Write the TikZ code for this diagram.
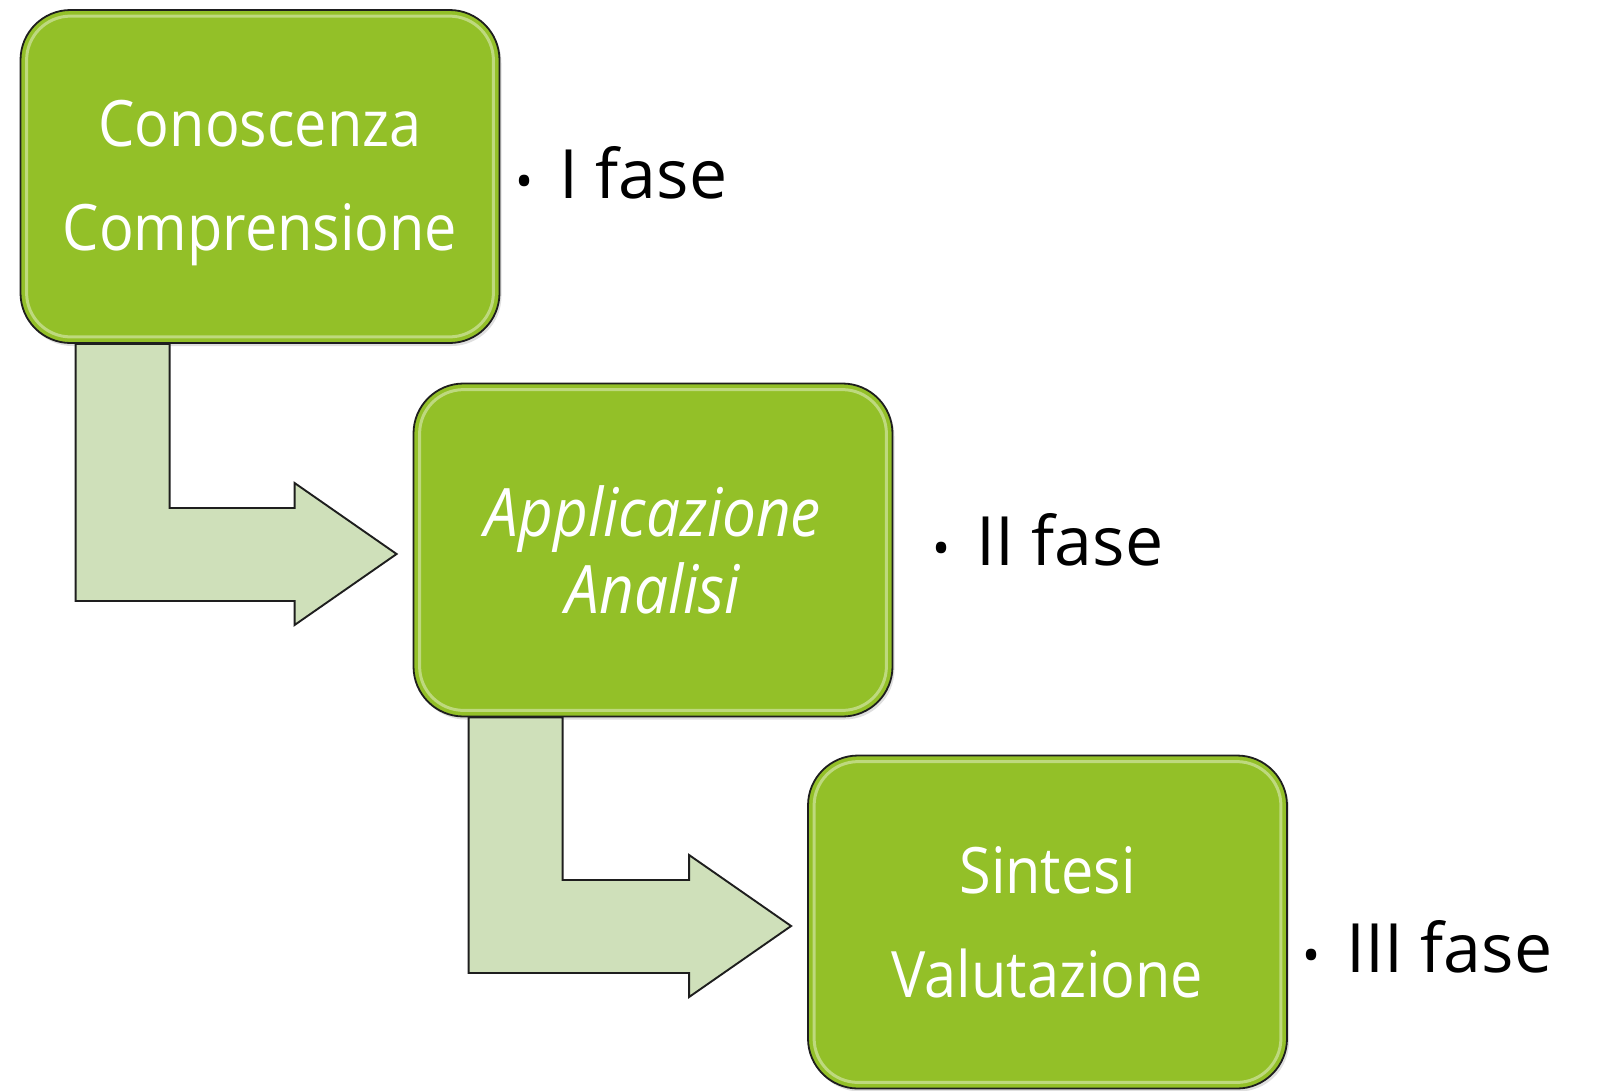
\documentclass[tikz,border=0pt]{standalone}
\usepackage{fontspec}
\setmainfont{Open Sans}[FakeStretch=0.9]
\newfontfamily\labelfont{Open Sans}
\usetikzlibrary{calc,shadows}
\definecolor{boxgreen}{RGB}{147,192,40}
\definecolor{arrowgreen}{RGB}{207,224,186}
\definecolor{edgegray}{RGB}{30,30,30}
\tikzset{
  phasebox/.style={draw=edgegray, line width=1.8pt, fill=boxgreen, rounded corners=50pt,
    minimum width=479pt, minimum height=333pt, inner sep=0pt, text=white, align=center,
    font=\fontsize{64}{104}\selectfont,
    drop shadow={opacity=0.25, shadow xshift=2pt, shadow yshift=-3pt}},
  bevel/.style={draw=white, opacity=0.4, line width=3pt, rounded corners=44pt},
  bentarrow/.style={draw=edgegray, line width=1.9pt, fill=arrowgreen, line join=miter},
  phaselabel/.style={anchor=base west, inner sep=0pt, text=black, font=\labelfont\fontsize{68}{72}\selectfont}
}
\newcommand{\phasebullet}{{\fontsize{48}{48}\selectfont •}\hspace{26pt}}
\newcommand{\lowline}[1]{\raisebox{-22pt}[0pt][0pt]{#1}}
\begin{document}
\begin{tikzpicture}[x=1pt,y=-1pt]
\useasboundingbox (0,0) rectangle (1613,1090);

% boxes
\node[phasebox] (b1) at (260,176.5) {\lowline{Conoscenza}\\\lowline{Comprensione}};
\node[phasebox, font=\fontsize{67}{77}\selectfont\itshape] (b2) at (653,550) {Applicazione\\Analisi};
\node[phasebox] (b3) at (1047.5,922) {Sintesi\\Valutazione};

% bevel highlights
\foreach \b in {b1,b2,b3}{
  \draw[bevel] ($(\b.south west)+(7,-7)$) rectangle ($(\b.north east)+(-7,7)$);
}

% bent arrows
\coordinate (t1) at ($(b2.west)+(-16,4)$);
\draw[bentarrow] ($(b1.south west)+(56,0)$) coordinate (a1) -- ++(94,0)
  |- ($(t1)+(-102,-46)$) -- ++(0,-25) -- (t1) -- ($(t1)+(-102,71)$) -- ++(0,-24) -| (a1) -- cycle;

\coordinate (t2) at ($(b3.west)+(-16,4)$);
\draw[bentarrow] ($(b2.south west)+(56,0)$) coordinate (a2) -- ++(94,0)
  |- ($(t2)+(-102,-46)$) -- ++(0,-25) -- (t2) -- ($(t2)+(-102,71)$) -- ++(0,-24) -| (a2) -- cycle;

% phase labels
\node[phaselabel] (l1) at (515,198) {\phasebullet I fase};
\node[phaselabel] (l2) at (932,565) {\phasebullet II fase};
\node[phaselabel] (l3) at (1302,972) {\phasebullet III fase};
\end{tikzpicture}
\end{document}
